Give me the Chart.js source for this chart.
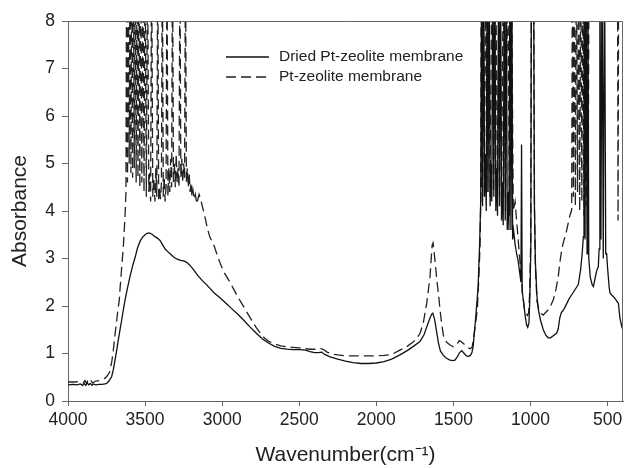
<!DOCTYPE html>
<html>
<head>
<meta charset="utf-8">
<script src="https://cdn.jsdelivr.net/npm/chart.js@4/dist/chart.umd.min.js"></script>
<style>
  html, body { margin: 0; padding: 0; background: #fff; }
  #wrap { width: 627px; height: 468px; }
</style>
</head>
<body>
<div id="wrap"><canvas id="c" width="627" height="468"></canvas></div>
<script>
// ---- Data (wavenumber cm-1, absorbance); 9.5 = saturated (off the top of the plot) ----
const seriesLabels = ['Dried Pt-zeolite membrane', 'Pt-zeolite membrane'];
const xTickValues = [4000, 3500, 3000, 2500, 2000, 1500, 1000, 500];
const yTickValues = [0, 1, 2, 3, 4, 5, 6, 7, 8];

const driedPoints = [
  [4000,0.34],[3970,0.35],[3940,0.34],[3920,0.36],[3905,0.33],[3895,0.37],[3885,0.33],[3875,0.38],
  [3865,0.34],[3855,0.37],[3845,0.33],[3835,0.36],[3820,0.34],[3800,0.35],[3780,0.35],[3760,0.36],
  [3749,0.37],[3735,0.42],[3717,0.51],[3706,0.66],[3695,0.86],[3684,1.07],[3674,1.28],[3663,1.49],
  [3652,1.70],[3641,1.92],[3630,2.13],[3614,2.38],[3598,2.62],[3582,2.83],[3565,3.02],[3549,3.22],
  [3533,3.36],[3516,3.45],[3500,3.50],[3487,3.53],[3473,3.54],[3455,3.51],[3436,3.46],[3420,3.43],
  [3403,3.38],[3385,3.28],[3370,3.20],[3355,3.15],[3338,3.10],[3315,3.03],[3295,2.99],[3270,2.96],
  [3250,2.95],[3230,2.92],[3210,2.86],[3187,2.77],[3160,2.65],[3133,2.55],[3105,2.46],[3079,2.37],
  [3050,2.27],[3020,2.19],[3000,2.13],[2970,2.04],[2940,1.95],[2900,1.83],[2860,1.70],[2820,1.56],
  [2780,1.43],[2740,1.31],[2700,1.22],[2660,1.15],[2620,1.11],[2580,1.09],[2540,1.08],[2500,1.08],
  [2460,1.07],[2430,1.04],[2400,1.02],[2375,1.02],[2355,1.03],[2335,0.98],[2300,0.93],[2250,0.88],
  [2200,0.84],[2150,0.81],[2100,0.79],[2050,0.79],[2000,0.80],[1950,0.83],[1900,0.88],[1847,0.97],
  [1800,1.06],[1760,1.15],[1717,1.25],[1690,1.40],[1673,1.56],[1655,1.72],[1641,1.83],[1634,1.85],
  [1622,1.72],[1610,1.48],[1597,1.22],[1584,1.05],[1565,0.96],[1545,0.90],[1522,0.86],[1505,0.85],
  [1490,0.86],[1475,0.93],[1460,1.02],[1446,1.06],[1430,1.00],[1415,0.95],[1403,0.94],[1390,0.96],
  [1380,1.02],[1372,1.15],[1365,1.40],[1355,1.77],[1340,2.40],[1330,3.30],[1323,4.20],
  [1317,9.5],[1311,4.1],[1304,9.5],[1298,4.3],[1292,5.2],[1287,4.0],[1281,9.5],[1275,4.4],
  [1268,9.5],[1262,4.1],[1256,5.0],[1251,4.2],[1244,9.5],[1238,4.3],[1231,9.5],[1225,4.0],
  [1219,4.9],[1214,3.9],[1207,9.5],[1201,4.1],[1194,9.5],[1188,3.8],[1182,4.6],[1177,3.7],
  [1170,9.5],[1164,3.8],[1157,9.5],[1151,3.6],[1145,4.4],[1140,3.6],[1133,9.5],[1127,3.6],
  [1121,9.5],[1116,3.4],[1110,3.6],[1100,3.3],[1090,3.1],[1080,2.95],[1070,2.7],[1062,2.5],
  [1058,5.4],[1054,2.3],[1045,2.1],[1035,1.8],[1025,1.6],[1018,1.55],[1010,1.65],[1004,2.2],
  [998,3.2],[994,9.5],[980,9.5],[975,4.2],[968,2.9],[958,2.2],[948,1.9],[935,1.7],[917,1.5],
  [900,1.38],[885,1.33],[870,1.33],[850,1.38],[830,1.43],[820,1.52],[810,1.75],[800,1.86],
  [790,1.90],[780,1.95],[765,2.05],[750,2.15],[740,2.20],[720,2.30],[700,2.40],[690,2.45],
  [675,2.76],[665,3.10],[657,3.46],[653,9.5],[646,3.4],[640,9.5],[633,3.1],[628,9.5],[622,3.0],
  [612,2.6],[600,2.45],[592,2.41],[580,2.60],[570,2.75],[560,2.83],[555,3.2],[550,9.5],
  [543,3.4],[536,9.5],[528,3.0],[520,9.5],[512,3.1],[506,3.1],[500,2.8],[490,2.4],[484,2.27],
  [470,2.22],[463,2.20],[450,2.15],[440,2.10],[430,2.06],[420,1.75],[408,1.56],[400,1.50]
];

const wetPoints = [
  [4000,0.40],[3960,0.40],[3920,0.41],[3900,0.38],[3890,0.43],[3880,0.37],[3870,0.44],[3860,0.39],
  [3850,0.42],[3840,0.38],[3820,0.42],[3800,0.43],[3780,0.45],[3760,0.48],[3745,0.53],[3728,0.62],
  [3715,0.85],[3706,1.07],[3695,1.40],[3684,1.70],[3675,1.95],[3667,2.13],[3663,2.34],[3652,2.80],
  [3641,3.25],[3630,3.90],[3624,4.40],
  [3620,9.5],[3614,4.6],[3609,9.5],[3603,5.0],[3598,9.5],[3592,4.8],[3587,9.5],[3581,4.7],
  [3576,9.5],[3570,4.9],[3564,9.5],[3558,4.6],[3552,9.5],[3546,4.7],[3540,9.5],[3534,4.5],
  [3528,9.5],[3521,4.6],[3514,9.5],[3507,4.4],[3500,9.5],[3492,4.3],[3484,9.5],[3476,4.4],
  [3470,4.8],[3464,4.2],[3458,9.5],[3450,4.3],[3444,4.7],[3436,4.2],[3430,4.9],[3424,4.3],
  [3418,9.5],[3412,4.2],[3406,4.5],[3400,4.25],[3394,4.6],[3388,9.5],[3382,4.3],[3376,4.7],
  [3370,4.2],[3364,4.5],[3358,9.5],[3352,4.3],[3346,4.9],[3340,4.4],[3334,5.1],[3328,4.5],
  [3322,9.5],[3316,4.6],[3310,5.0],[3304,4.5],[3298,5.2],[3292,4.6],[3286,4.9],[3280,4.5],
  [3274,9.5],[3268,4.7],[3262,5.1],[3256,4.6],[3250,5.0],[3244,4.7],[3238,9.5],[3232,4.6],
  [3226,4.9],[3220,4.5],[3214,4.8],[3208,4.4],[3202,4.6],[3196,4.3],[3190,4.45],[3182,4.25],
  [3174,4.35],[3165,4.15],[3150,4.35],[3140,4.25],
  [3125,4.05],[3110,3.85],[3095,3.62],[3080,3.45],[3056,3.30],[3035,3.10],[3013,2.90],[2990,2.72],
  [2960,2.56],[2928,2.37],[2900,2.20],[2860,1.98],[2818,1.75],[2780,1.55],[2734,1.35],[2700,1.26],
  [2660,1.20],[2620,1.16],[2580,1.14],[2540,1.13],[2500,1.12],[2460,1.10],[2428,1.09],[2390,1.09],
  [2363,1.11],[2340,1.08],[2320,1.03],[2290,0.99],[2250,0.97],[2200,0.95],[2150,0.95],[2100,0.95],
  [2050,0.95],[2000,0.95],[1950,0.96],[1900,0.98],[1847,1.07],[1800,1.15],[1762,1.24],[1740,1.31],
  [1717,1.42],[1695,1.65],[1673,2.06],[1660,2.40],[1652,2.60],[1645,2.95],[1638,3.28],[1632,3.33],
  [1624,3.10],[1615,2.80],[1606,2.50],[1595,2.20],[1587,1.92],[1575,1.60],[1565,1.38],[1545,1.24],
  [1522,1.18],[1500,1.14],[1480,1.18],[1462,1.27],[1450,1.25],[1425,1.18],[1405,1.12],[1390,1.10],
  [1378,1.14],[1371,1.28],[1360,1.55],[1345,1.92],[1335,2.60],[1327,3.30],[1322,4.40],
  [1320,9.5],[1314,4.5],[1308,9.5],[1300,4.3],[1290,9.5],[1282,4.4],[1272,9.5],[1262,4.3],
  [1250,9.5],[1240,4.4],[1226,9.5],[1214,4.3],[1200,9.5],[1188,4.1],[1176,9.5],[1162,4.0],
  [1148,9.5],[1136,3.9],[1124,9.5],[1112,4.0],[1100,4.2],[1090,3.8],[1080,3.4],
  [1070,3.0],[1060,2.6],[1050,2.2],[1040,1.95],[1030,1.85],[1020,1.80],[1012,1.85],[1005,2.30],
  [998,3.50],[994,9.5],[980,9.5],[974,4.0],[968,2.8],[958,2.1],[945,1.9],[935,1.85],[917,1.81],
  [900,1.87],[885,1.92],[870,2.00],[852,2.13],[835,2.35],[820,2.62],[810,2.90],[798,3.18],
  [786,3.35],[776,3.46],[765,3.60],[755,3.75],[745,3.90],[733,4.02],
  [728,9.5],[722,4.3],[716,9.5],[709,4.1],[702,9.5],[695,4.4],[688,9.5],[681,4.0],[674,9.5],
  [667,4.2],[660,9.5],[653,3.9],[646,9.5],[639,4.1],[632,9.5],[626,4.3],[620,9.5],
  [436,9.5],[432,3.8],[428,9.5],[400,9.5]
];

const toXY = pts => pts.map(p => ({ x: p[0], y: p[1] }));
const FONT = "'Liberation Sans', Arial, Helvetica, sans-serif";
const AXIS_GRAY = '#666';
const TEXT = '#222';

const frameAndLegend = {
  id: 'frameAndLegend',
  afterDatasetsDraw(chart) {
    const { ctx, chartArea: a } = chart;
    ctx.save();
    ctx.strokeStyle = AXIS_GRAY;
    ctx.lineWidth = 1;
    ctx.beginPath();
    ctx.moveTo(a.left, a.top + 0.5);
    ctx.lineTo(a.right - 0.5, a.top + 0.5);
    ctx.lineTo(a.right - 0.5, a.bottom);
    ctx.stroke();
    chart.data.datasets.forEach((ds, i) => {
      const y = 57 + i * 20;
      ctx.beginPath();
      ctx.setLineDash(ds.borderDash || []);
      ctx.strokeStyle = ds.borderColor;
      ctx.lineWidth = ds.borderWidth;
      ctx.moveTo(226, y);
      ctx.lineTo(269, y);
      ctx.stroke();
      ctx.setLineDash([]);
      ctx.fillStyle = TEXT;
      ctx.font = "15.5px " + FONT;
      ctx.textBaseline = 'middle';
      ctx.textAlign = 'left';
      ctx.fillText(ds.label, 279, y);
    });
    ctx.restore();
  }
};

new Chart(document.getElementById('c'), {
  type: 'line',
  data: {
    datasets: [
      { label: seriesLabels[0], data: toXY(driedPoints), borderColor: '#111', borderWidth: 1.3,
        pointRadius: 0, tension: 0, fill: false, clip: 0 },
      { label: seriesLabels[1], data: toXY(wetPoints), borderColor: '#222', borderWidth: 1.3,
        borderDash: [10, 5], pointRadius: 0, tension: 0, fill: false, clip: 0 }
    ]
  },
  options: {
    responsive: false,
    animation: false,
    layout: { padding: { top: 21, right: 4, left: 0, bottom: 0 } },
    plugins: { legend: { display: false }, tooltip: { enabled: false } },
    scales: {
      x: {
        type: 'linear', reverse: true, min: 400, max: 4000,
        afterBuildTicks: s => { s.ticks = xTickValues.map(v => ({ value: v })); },
        afterFit: s => { s.height = 67; },
        grid: { display: true, drawOnChartArea: false, drawTicks: true, tickLength: 5, color: AXIS_GRAY },
        border: { display: true, color: AXIS_GRAY, width: 1 },
        ticks: { color: TEXT, font: { family: FONT, size: 17.5 }, padding: 4, maxRotation: 0,
                 callback: v => String(v) },
        title: { display: true, text: 'Wavenumber(cm\u207B\u00B9)', color: TEXT,
                 font: { family: FONT, size: 21 }, padding: { top: 0, bottom: 0 } }
      },
      y: {
        type: 'linear', min: 0, max: 8,
        afterBuildTicks: s => { s.ticks = yTickValues.map(v => ({ value: v })); },
        afterFit: s => { s.width = 68; },
        grid: { display: true, drawOnChartArea: false, drawTicks: true, tickLength: 6, color: AXIS_GRAY },
        border: { display: true, color: AXIS_GRAY, width: 1 },
        ticks: { color: TEXT, font: { family: FONT, size: 17.5 }, padding: 7 },
        title: { display: true, text: 'Absorbance', color: TEXT,
                 font: { family: FONT, size: 21 }, padding: { top: 8, bottom: 0 } }
      }
    }
  },
  plugins: [frameAndLegend]
});
</script>
</body>
</html>
